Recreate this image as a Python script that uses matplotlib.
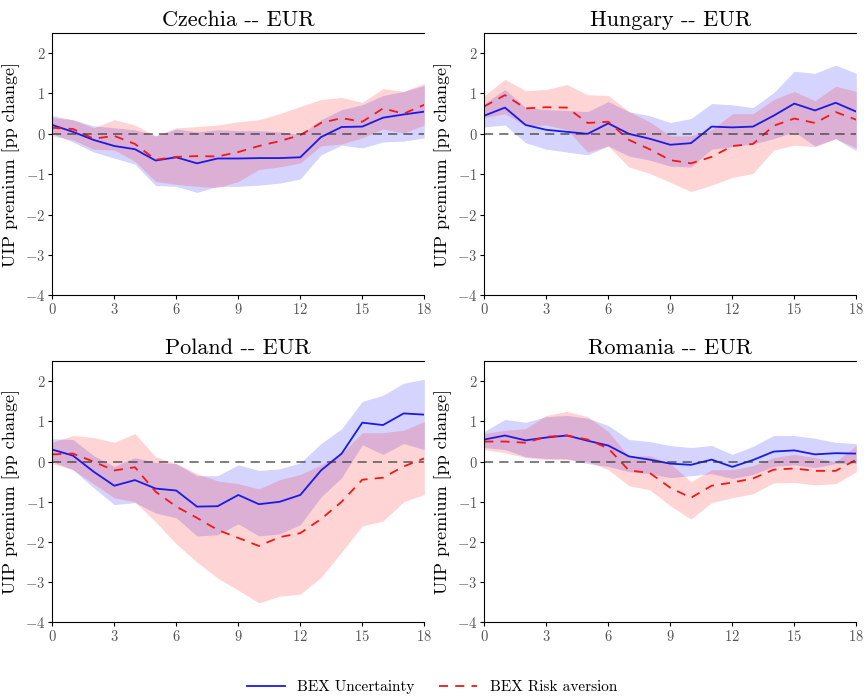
import matplotlib
matplotlib.use("Agg")
from matplotlib import pyplot as plt
import numpy as np

plt.rcParams["font.family"] = ["cmr10", "DejaVu Serif"]
plt.rcParams["mathtext.fontset"] = "cm"
plt.rcParams["axes.formatter.use_mathtext"] = True

horizon = list(range(19))
countries = ["Czechia", "Hungary", "Poland", "Romania"]

# Czechia
cz_unc = [0.22, 0.05, -0.15, -0.3, -0.38, -0.66, -0.58, -0.73, -0.61, -0.61, -0.6, -0.6, -0.58, -0.08, 0.17, 0.18, 0.4, 0.48, 0.55]
cz_unc_hi = [0.45, 0.35, 0.2, 0.15, 0.1, -0.05, 0.12, 0.05, 0.1, 0.08, 0.08, 0.05, -0.02, 0.35, 0.6, 0.72, 0.95, 1.05, 1.2]
cz_unc_lo = [0.0, -0.2, -0.45, -0.6, -0.75, -1.28, -1.3, -1.45, -1.3, -1.3, -1.27, -1.22, -1.12, -0.52, -0.28, -0.35, -0.2, -0.18, -0.1]
cz_ra = [0.15, 0.12, -0.12, -0.05, -0.25, -0.64, -0.57, -0.55, -0.56, -0.45, -0.3, -0.18, -0.03, 0.27, 0.39, 0.3, 0.63, 0.5, 0.72]
cz_ra_hi = [0.4, 0.35, 0.15, 0.35, 0.22, -0.05, 0.15, 0.18, 0.22, 0.3, 0.35, 0.5, 0.68, 0.85, 0.9, 0.78, 1.12, 1.05, 1.25]
cz_ra_lo = [-0.05, -0.15, -0.38, -0.4, -0.68, -1.18, -1.25, -1.3, -1.33, -1.18, -0.88, -0.82, -0.72, -0.3, -0.25, -0.1, 0.12, 0.02, 0.22]

# Hungary
hu_unc = [0.45, 0.65, 0.22, 0.1, 0.05, 0.0, 0.26, 0.0, -0.12, -0.27, -0.23, 0.18, 0.16, 0.18, 0.45, 0.75, 0.58, 0.77, 0.55]
hu_unc_hi = [0.75, 1.1, 0.65, 0.6, 0.58, 0.55, 0.8, 0.55, 0.45, 0.28, 0.38, 0.75, 0.72, 0.65, 1.02, 1.55, 1.5, 1.7, 1.5]
hu_unc_lo = [0.17, 0.22, -0.22, -0.38, -0.45, -0.52, -0.3, -0.55, -0.65, -0.8, -0.82, -0.38, -0.32, -0.25, -0.12, 0.05, -0.3, -0.12, -0.42]
hu_ra = [0.68, 0.96, 0.63, 0.66, 0.65, 0.27, 0.3, -0.15, -0.38, -0.65, -0.73, -0.57, -0.3, -0.25, 0.2, 0.38, 0.27, 0.54, 0.35]
hu_ra_hi = [0.95, 1.35, 1.07, 1.1, 1.22, 0.97, 0.95, 0.55, 0.3, -0.05, -0.05, 0.1, 0.5, 0.5, 0.85, 1.05, 0.82, 1.18, 1.05]
hu_ra_lo = [0.4, 0.5, 0.2, 0.22, 0.1, -0.45, -0.3, -0.82, -0.98, -1.2, -1.43, -1.27, -1.08, -0.98, -0.4, -0.28, -0.32, -0.12, -0.35]

# Poland
pl_unc = [0.3, 0.15, -0.25, -0.6, -0.46, -0.67, -0.72, -1.12, -1.11, -0.83, -1.06, -1.0, -0.83, -0.22, 0.2, 0.97, 0.91, 1.2, 1.17]
pl_unc_hi = [0.57, 0.55, 0.15, -0.12, 0.1, -0.02, -0.05, -0.35, -0.35, -0.08, -0.22, -0.18, -0.03, 0.45, 0.82, 1.5, 1.65, 1.95, 2.05]
pl_unc_lo = [0.0, -0.2, -0.65, -1.07, -1.02, -1.28, -1.4, -1.85, -1.82, -1.55, -1.85, -1.8, -1.57, -0.88, -0.4, 0.42, 0.18, 0.45, 0.3]
pl_ra = [0.18, 0.2, 0.0, -0.22, -0.14, -0.75, -1.12, -1.4, -1.7, -1.9, -2.1, -1.88, -1.78, -1.43, -1.0, -0.45, -0.4, -0.12, 0.08]
pl_ra_hi = [0.48, 0.65, 0.6, 0.48, 0.7, 0.12, -0.05, -0.3, -0.48, -0.55, -0.68, -0.45, -0.32, -0.08, 0.2, 0.72, 0.72, 0.78, 1.0]
pl_ra_lo = [-0.05, -0.2, -0.55, -0.9, -1.0, -1.5, -2.05, -2.5, -2.9, -3.2, -3.52, -3.35, -3.3, -2.88, -2.25, -1.6, -1.48, -1.0, -0.82]

# Romania
ro_unc = [0.55, 0.65, 0.53, 0.6, 0.65, 0.52, 0.4, 0.13, 0.05, -0.05, -0.08, 0.05, -0.13, 0.04, 0.25, 0.28, 0.18, 0.21, 0.2]
ro_unc_hi = [0.75, 1.05, 0.98, 1.12, 1.15, 1.08, 0.9, 0.55, 0.5, 0.4, 0.35, 0.4, 0.18, 0.38, 0.65, 0.65, 0.58, 0.48, 0.45]
ro_unc_lo = [0.35, 0.3, 0.12, 0.08, 0.07, -0.05, -0.12, -0.25, -0.3, -0.4, -0.35, -0.3, -0.42, -0.32, -0.12, -0.08, -0.15, -0.05, -0.05]
ro_ra = [0.5, 0.5, 0.47, 0.62, 0.65, 0.55, 0.33, -0.22, -0.28, -0.65, -0.9, -0.6, -0.52, -0.42, -0.2, -0.17, -0.23, -0.23, 0.05]
ro_ra_hi = [0.7, 0.78, 0.82, 1.15, 1.25, 1.12, 0.75, 0.12, 0.15, -0.05, -0.5, -0.2, -0.2, -0.1, 0.1, 0.18, 0.1, 0.0, 0.4]
ro_ra_lo = [0.3, 0.22, 0.1, 0.05, 0.05, 0.0, -0.2, -0.6, -0.7, -1.1, -1.43, -1.02, -0.9, -0.8, -0.53, -0.52, -0.58, -0.55, -0.25]

panels = [
    (cz_unc, cz_unc_lo, cz_unc_hi, cz_ra, cz_ra_lo, cz_ra_hi),
    (hu_unc, hu_unc_lo, hu_unc_hi, hu_ra, hu_ra_lo, hu_ra_hi),
    (pl_unc, pl_unc_lo, pl_unc_hi, pl_ra, pl_ra_lo, pl_ra_hi),
    (ro_unc, ro_unc_lo, ro_unc_hi, ro_ra, ro_ra_lo, ro_ra_hi),
]

fig = plt.figure(figsize=(8.64, 7.0), dpi=100)
positions = [
    [0.0605, 0.578, 0.4306, 0.375],
    [0.5605, 0.578, 0.4306, 0.375],
    [0.0605, 0.111, 0.4306, 0.373],
    [0.5605, 0.111, 0.4306, 0.373],
]

for pos, name, (u, ulo, uhi, r, rlo, rhi) in zip(positions, countries, panels):
    ax = fig.add_axes(pos)
    ax.fill_between(horizon, ulo, uhi, color="blue", alpha=0.17, linewidth=0)
    ax.fill_between(horizon, rlo, rhi, color="red", alpha=0.17, linewidth=0)
    ax.plot(horizon, u, color="#1a1ae6", linewidth=1.3, label="BEX Uncertainty")
    ax.plot(horizon, r, color="#f01818", linewidth=1.3, linestyle=(0, (5, 4)), label="BEX Risk aversion")
    ax.axhline(0, color="#333333", linewidth=1.1, linestyle=(0, (6, 4)), alpha=0.8)
    ax.set_xlim(0, 18)
    ax.set_ylim(-4, 2.5)
    ax.set_xticks(range(0, 19, 3))
    ax.set_yticks(range(-4, 3))
    ax.tick_params(labelsize=10.5, labelcolor="#555555", length=3, pad=2)
    ax.set_ylabel("UIP premium [pp change]", fontsize=13, labelpad=4)
    ax.set_title(name + " -- EUR", fontsize=16, pad=5)
    ax.spines["right"].set_visible(False)
    for s in ["left", "top", "bottom"]:
        ax.spines[s].set_color("black")

handles, labels = ax.get_legend_handles_labels()
fig.legend(handles, labels, loc="center", bbox_to_anchor=(0.5, 0.018), ncol=2,
           frameon=False, fontsize=11, handlelength=2.5, columnspacing=1.6)

plt.savefig("out.png", dpi=100)
